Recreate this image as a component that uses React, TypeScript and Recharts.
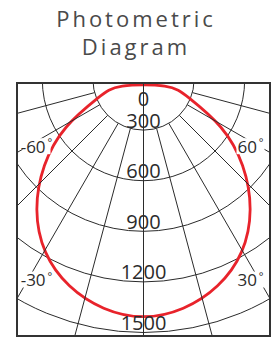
import React from 'react'
import { RadarChart, Radar, PolarGrid, PolarAngleAxis, PolarRadiusAxis, Curve } from 'recharts'

// beam angle in degrees (0 = straight down, + to the right) and intensity in cd
const angles = [-80, -70, -60, -50, -40, -30, -20, -10, 0, 10, 20, 30, 40, 50, 60, 70, 80]
const intensity = [172, 262, 548, 783, 1010, 1193, 1313, 1390, 1425, 1390, 1313, 1193, 1010, 783, 548, 262, 172]

const radiusTicks = [0, 300, 600, 900, 1200, 1500]
const spokeAngles = [-90, -75, -60, -45, -30, -15, 0, 15, 30, 45, 60, 75, 90]
const labelledAngles = [-60, -30, 30, 60]

const data = angles.map((a, i) => ({ angle: a, cd: intensity[i] }))

const W = 251
const H = 251
const CX = 125.5
const CY = -4.5
const R_MAX = 1800
const OUTER = 303.6
const INNER = (OUTER * 300) / R_MAX // spokes start at the 300 cd ring
const FONT = '"Open Sans", "Noto Sans", sans-serif'
const INK = '#2b2b2b'
const RED = '#e8232b'

const AngleTick = (props: any) => {
  const v = props.payload?.value
  if (!labelledAngles.includes(v)) return <g />
  const x = CX + Math.sign(v) * 107
  const y = CY + 115.5 / Math.tan((Math.abs(v) * Math.PI) / 180)
  return (
    <g>
      <rect x={x - 14} y={y - 8} width={28} height={16} fill="#fff" />
      <text x={x} y={y} textAnchor="middle" dominantBaseline="central" fontSize={17} fill={INK} fontFamily={FONT}>
        {v}
        <tspan fontSize={11} dx={2} dy={-5}>°</tspan>
      </text>
    </g>
  )
}

const RadiusTick = (props: any) => {
  const { x, y, payload } = props
  const off = payload.value === 0 ? 19 : -10
  return (
    <text x={x} y={y + off} textAnchor="middle" dominantBaseline="central" fontSize={20} fill={INK} fontFamily={FONT}>
      {payload.value}
    </text>
  )
}

const smoothOutline = (props: any) => (
  <Curve points={props.points} type="basisClosed" stroke={RED} strokeWidth={2.8} fill="none" />
)

export default function App() {
  return (
    <div style={{ position: 'absolute', left: 0, top: 0, width: 279, height: 340, background: '#fff', fontFamily: FONT }}>
      <div
        style={{
          position: 'absolute',
          left: 0,
          top: 4,
          width: 272,
          textAlign: 'center',
          fontSize: 22,
          lineHeight: '28px',
          letterSpacing: 3,
          color: '#4a4a4a',
        }}
      >
        Photometric
        <br />
        Diagram
      </div>
      <div
        style={{
          position: 'absolute',
          left: 16,
          top: 82,
          width: W,
          height: H,
          border: '2px solid #333',
          overflow: 'hidden',
        }}
      >
        <RadarChart
          width={W}
          height={H}
          data={data}
          cx={CX}
          cy={CY}
          startAngle={-270}
          endAngle={90}
          innerRadius={0}
          outerRadius={OUTER}
          margin={{ top: 0, right: 0, bottom: 0, left: 0 }}
        >
          <PolarGrid gridType="circle" radialLines={false} stroke={INK} />
          <PolarAngleAxis
            dataKey="angle"
            type="number"
            domain={[-180, 180]}
            ticks={spokeAngles}
            axisLine={false}
            orientation="inner"
            tickSize={OUTER - INNER}
            tickLine={{ stroke: INK }}
            tick={AngleTick}
          />
          <PolarRadiusAxis
            angle={-90}
            type="number"
            domain={[0, R_MAX]}
            ticks={radiusTicks}
            axisLine={{ stroke: INK }}
            tickLine={false}
            tick={RadiusTick}
          />
          <Radar
            dataKey="cd"
            stroke={RED}
            fill="none"
            dot={false}
            shape={smoothOutline}
            isAnimationActive={false}
          />
        </RadarChart>
      </div>
    </div>
  )
}
